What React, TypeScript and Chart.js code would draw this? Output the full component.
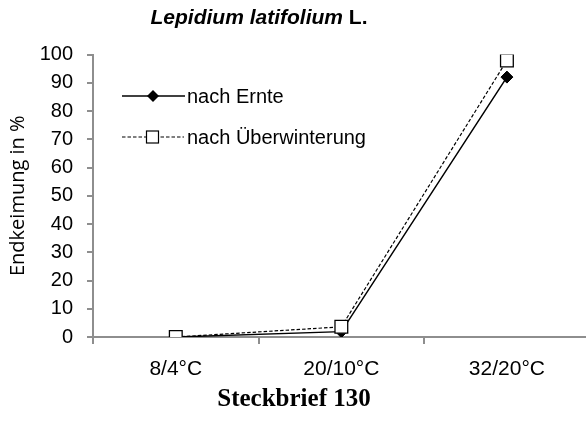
import React, { useEffect, useRef } from "react";
import { Chart, registerables } from "chart.js";

Chart.register(...registerables);

const categories = ["8/4°C", "20/10°C", "32/20°C"];
const nachErnte = [0, 1.9, 92];
const nachUeberwinterung = [0, 3.6, 97.9];
const yTicks = [0, 10, 20, 30, 40, 50, 60, 70, 80, 90, 100];
const seriesNames = ["nach Ernte", "nach Überwinterung"];

const AXIS = "#8e8e8e";
const FONT = "'Liberation Sans', Arial, sans-serif";

const legendPlugin = {
  id: "customLegend",
  afterDraw(chart: any) {
    const ctx = chart.ctx as CanvasRenderingContext2D;
    ctx.save();
    // item 1
    let y = 96;
    ctx.strokeStyle = "#000";
    ctx.lineWidth = 1.5;
    ctx.setLineDash([]);
    ctx.beginPath();
    ctx.moveTo(122, y);
    ctx.lineTo(185, y);
    ctx.stroke();
    ctx.fillStyle = "#000";
    ctx.beginPath();
    const r = 6;
    ctx.moveTo(153, y - r);
    ctx.lineTo(153 + r, y);
    ctx.lineTo(153, y + r);
    ctx.lineTo(153 - r, y);
    ctx.closePath();
    ctx.fill();
    ctx.font = `20px ${FONT}`;
    ctx.textBaseline = "middle";
    ctx.textAlign = "left";
    ctx.fillText(seriesNames[0], 187, y + 1);
    // item 2
    y = 137;
    ctx.lineWidth = 1.2;
    ctx.setLineDash([3.5, 2]);
    ctx.beginPath();
    ctx.moveTo(122, y);
    ctx.lineTo(184, y);
    ctx.stroke();
    ctx.setLineDash([]);
    ctx.fillStyle = "#fff";
    ctx.fillRect(146.5, y - 6, 12, 12);
    ctx.lineWidth = 1.2;
    ctx.strokeRect(146.5, y - 6, 12, 12);
    ctx.fillStyle = "#000";
    ctx.fillText(seriesNames[1], 187, y + 1);
    ctx.restore();
  },
};

export default function App() {
  const ref = useRef<HTMLCanvasElement | null>(null);
  useEffect(() => {
    if (!ref.current) return;
    const chart = new Chart(ref.current, {
      type: "line",
      data: {
        labels: categories,
        datasets: [
          {
            label: seriesNames[0],
            data: nachErnte,
            borderColor: "#000",
            borderWidth: 1.5,
            backgroundColor: "#000",
            pointStyle: "rectRot",
            pointRadius: 6,
            pointBorderWidth: 1,
            pointBorderColor: "#000",
            pointBackgroundColor: "#000",
            tension: 0,
            order: 1,
          },
          {
            label: seriesNames[1],
            data: nachUeberwinterung,
            borderColor: "#000",
            borderWidth: 1.2,
            borderDash: [3.5, 2],
            pointStyle: "rect",
            pointRadius: 9,
            pointBorderWidth: 1.3,
            pointBorderColor: "#000",
            pointBackgroundColor: "#fff",
            tension: 0,
            order: 0,
          },
        ],
      },
      options: {
        responsive: false,
        animation: false,
        devicePixelRatio: 1,
        layout: { padding: { left: 0, right: 8, top: 54.5, bottom: 40 } },
        plugins: {
          legend: { display: false },
          tooltip: { enabled: false },
          title: { display: false },
        },
        scales: {
          x: {
            type: "category",
            offset: true,
            grid: {
              offset: true,
              drawOnChartArea: false,
              drawTicks: true,
              tickLength: 7,
              color: AXIS,
              lineWidth: 2,
            },
            border: { color: AXIS, width: 2 },
            ticks: {
              color: "#000",
              font: { family: FONT, size: 21 },
              padding: 13,
            },
            afterFit: (s: any) => {
              s.height = 51;
            },
          },
          y: {
            min: 0,
            max: 100,
            afterBuildTicks: (s: any) => {
              s.ticks = yTicks.map((v) => ({ value: v }));
            },
            grid: {
              drawOnChartArea: false,
              drawTicks: true,
              tickLength: 6,
              color: AXIS,
              lineWidth: 2,
            },
            border: { color: AXIS, width: 2 },
            ticks: {
              color: "#000",
              font: { family: FONT, size: 20 },
              padding: 14,
            },
            title: {
              display: true,
              text: "Endkeimung in %",
              color: "#000",
              font: { family: "'Open Sans', sans-serif", size: 20 },
              padding: { top: 6, bottom: 0 },
            },
            afterFit: (s: any) => {
              s.width = 93;
            },
          },
        },
      },
      plugins: [legendPlugin],
    });
    return () => chart.destroy();
  }, []);

  return (
    <div
      style={{
        position: "absolute",
        left: 0,
        top: 0,
        width: 586,
        height: 428,
        overflow: "hidden",
        background: "#fff",
      }}
    >
      <canvas ref={ref} width={600} height={428} style={{ display: "block" }} />
      <div
        style={{
          position: "absolute",
          left: 0,
          width: 518,
          top: 4,
          textAlign: "center",
          fontFamily: FONT,
          fontWeight: "bold",
          fontSize: 21,
          lineHeight: "26px",
          color: "#000",
        }}
      >
        <i>Lepidium latifolium</i> L.
      </div>
      <div
        style={{
          position: "absolute",
          left: 0,
          width: 588,
          top: 382,
          textAlign: "center",
          fontFamily: "'Liberation Serif', 'Times New Roman', serif",
          fontWeight: "bold",
          fontSize: 25,
          lineHeight: "32px",
          color: "#000",
        }}
      >
        Steckbrief 130
      </div>
    </div>
  );
}
